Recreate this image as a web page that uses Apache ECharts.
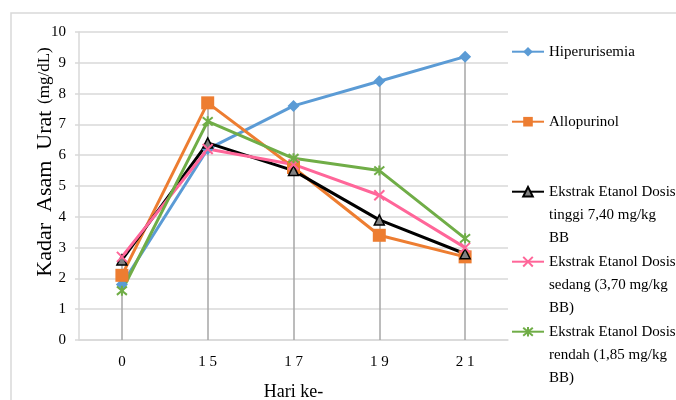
<!DOCTYPE html>
<html><head><meta charset="utf-8">
<script src="https://cdn.jsdelivr.net/npm/echarts@6/dist/echarts.min.js"></script>
<style>html,body{margin:0;padding:0;background:#fff}#c{width:676px;height:400px}</style>
</head><body><div id="c"></div>
<script>
var categories = ['0', '15', '17', '19', '21'];
var hiperurisemia = [1.8, 6.2, 7.6, 8.4, 9.2];
var allopurinol = [2.1, 7.7, 5.6, 3.4, 2.7];
var dosisTinggi = [2.6, 6.4, 5.5, 3.9, 2.8];
var dosisSedang = [2.7, 6.2, 5.7, 4.7, 3.0];
var dosisRendah = [1.6, 7.1, 5.9, 5.5, 3.3];
var seriesNames = [
  'Hiperurisemia',
  'Allopurinol',
  'Ekstrak Etanol Dosis\ntinggi 7,40 mg/kg\nBB',
  'Ekstrak Etanol Dosis\nsedang (3,70 mg/kg\nBB)',
  'Ekstrak Etanol Dosis\nrendah (1,85 mg/kg\nBB)'
];
var yTicks = {min: 0, max: 10, interval: 1};

var allData = [hiperurisemia, allopurinol, dosisTinggi, dosisSedang, dosisRendah];
var dropLines = categories.map(function (c, i) {
  var m = Math.max.apply(null, allData.map(function (d) { return d[i]; }));
  return [{coord: [i, 0]}, {coord: [i, m]}];
});

var serif = 'Liberation Serif';
var xPath = 'path://M0,0L10,10M10,0L0,10';
var starPath = 'path://M0,0L10,10M10,0L0,10M5,-1L5,11';

var chart = echarts.init(document.getElementById('c'), null, {renderer: 'canvas'});

function mkLegend(i, centerY, multi) {
  return {
    show: true, orient: 'vertical', left: 511, top: multi ? centerY - 57.5 : centerY - 11.5,
    padding: 0,
    data: [seriesNames[i]],
    itemWidth: 32, itemHeight: 12, itemGap: 3,
    formatter: function (name) { return multi ? '\u00a0\n\u00a0\n' + name : name; },
    textStyle: {fontFamily: serif, fontSize: 15, color: '#000', lineHeight: 23},
    selectedMode: false
  };
}

var common = {type: 'line', symbolSize: 10, showSymbol: true, z: 3};

chart.setOption({
  animation: false,
  backgroundColor: '#fff',
  grid: {left: 79, right: 168, top: 32, bottom: 60, containLabel: false, outerBoundsMode: 'none'},
  graphic: [
    {type: 'rect', shape: {x: 11, y: 13, width: 700, height: 400}, style: {fill: 'none', stroke: '#d9d9d9', lineWidth: 1.5}, silent: true},
    {type: 'text', x: 45, y: 162, rotation: Math.PI / 2, style: {
      rich: {a: {fontFamily: serif, fontSize: 22, fill: '#000'}, b: {fontFamily: serif, fontSize: 17, fill: '#000'}},
      text: '{a|Kadar  Asam  Urat}  {b|(mg/dL)}', align: 'center', verticalAlign: 'middle'}}
  ],
  legend: [
    mkLegend(0, 51.7, false),
    mkLegend(1, 121.7, false),
    mkLegend(2, 191.7, true),
    mkLegend(3, 261.7, true),
    mkLegend(4, 331.7, true)
  ],
  xAxis: {
    type: 'category', data: categories, boundaryGap: true,
    axisLine: {show: true, lineStyle: {color: '#d9d9d9', width: 1.5}},
    axisTick: {show: false},
    axisLabel: {fontFamily: serif, fontSize: 15, color: '#000', margin: 15,
      formatter: function (v) { return v.split('').join(' '); }},
    name: 'Hari ke-', nameLocation: 'middle', nameGap: 43,
    nameTextStyle: {fontFamily: serif, fontSize: 18, color: '#000'}
  },
  yAxis: {
    type: 'value', min: yTicks.min, max: yTicks.max, interval: yTicks.interval,
    axisLine: {show: true, lineStyle: {color: '#d9d9d9', width: 1.5}},
    axisTick: {show: true, length: 4, lineStyle: {color: '#d9d9d9', width: 1.5}},
    axisLabel: {fontFamily: serif, fontSize: 15, color: '#000', margin: 13},
    splitLine: {lineStyle: {color: '#d9d9d9', width: 1.5}}
  },
  series: [
    Object.assign({}, common, {name: seriesNames[0], data: hiperurisemia, symbol: 'diamond', symbolSize: 12,
      lineStyle: {color: '#5b9bd5', width: 3}, itemStyle: {color: '#5b9bd5'},
      markLine: {silent: true, symbol: 'none', label: {show: false}, z: 1,
        lineStyle: {color: '#a6a6a6', width: 1.5, type: 'solid'}, data: dropLines}}),
    Object.assign({}, common, {name: seriesNames[1], data: allopurinol, symbol: 'rect', symbolSize: 13,
      lineStyle: {color: '#ed7d31', width: 3}, itemStyle: {color: '#ed7d31'}}),
    Object.assign({}, common, {name: seriesNames[2], data: dosisTinggi, symbol: 'triangle', symbolSize: 10,
      lineStyle: {color: '#000', width: 3}, itemStyle: {color: '#808080', borderColor: '#000', borderWidth: 1.5}}),
    Object.assign({}, common, {name: seriesNames[3], data: dosisSedang, symbol: xPath, symbolSize: 10,
      lineStyle: {color: '#ff6699', width: 3}, itemStyle: {color: '#ff6699', borderColor: '#ff6699', borderWidth: 2}}),
    Object.assign({}, common, {name: seriesNames[4], data: dosisRendah, symbol: starPath, symbolSize: 10,
      lineStyle: {color: '#70ad47', width: 3}, itemStyle: {color: '#70ad47', borderColor: '#70ad47', borderWidth: 2}})
  ]
});
</script></body></html>
